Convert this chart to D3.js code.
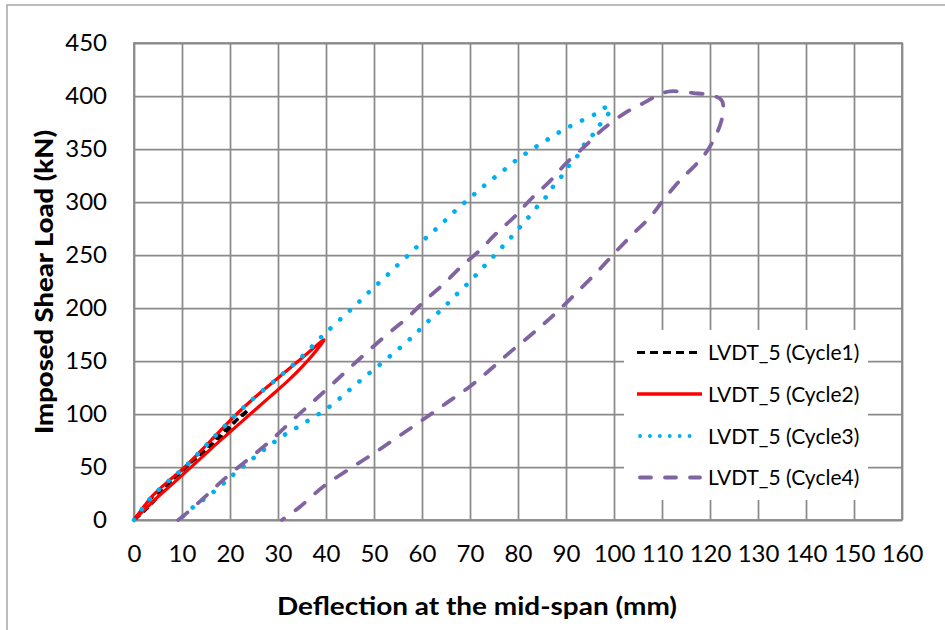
<!DOCTYPE html>
<html><head><meta charset="utf-8">
<script src="https://cdn.jsdelivr.net/npm/d3@7"></script>
<style>body{margin:0;background:#fff}svg{display:block}</style>
</head><body>
<svg id="chart" width="945" height="630"></svg>
<script>
// ---- data ----
const xTickValues = [0,10,20,30,40,50,60,70,80,90,100,110,120,130,140,150,160];
const yTickValues = [0,50,100,150,200,250,300,350,400,450];
const seriesNames = ["LVDT_5 (Cycle1)","LVDT_5 (Cycle2)","LVDT_5 (Cycle3)","LVDT_5 (Cycle4)"];

const cycle1 = [[0,0],[3.5,20],[7,34],[10.5,49],[14,64],[17.5,79],[21,93],[23.8,104],
  [22.5,98],[21.4,94.3],[19,81.8],[16.5,70.8],[13.75,61.3],[11.7,53.5],[9.6,44],[7.9,37.7],[5,22],[2.5,10],[0,0]];

const cycle2 = [[0,0],[1.8,11],[3.7,22],[7,36],[10.6,50],[16,75],[21.4,100],[25.5,117],[30,134],[34.5,151],[39.6,170],
  [38,160],[35,144.5],[32,131],[28,115],[24,99],[20,83],[16,67],[12.4,52],[8.5,36],[5.4,23.6],[2.5,11],[0,0]];

const cycle3 = [[0,0],[1.8,11],[3.7,22],[7,36],[10.6,50],[16,75],[21.4,100],[25.5,117],[30,134],[34.5,152],[39.1,173],
  [40.5,179],[43.5,191.5],[46.5,204],[49.3,216.6],[52.3,229],[55.2,241.7],[58.1,254],[61,266.8],[64,279],[67,292],
  [70,303.8],[73.1,316],[76.3,327.3],[79.5,339],[82.7,349],[86.2,359],[89.7,368.7],[93.3,376.8],[96.8,384.6],
  [98.7,390.3],[99.3,387.5],[98.3,380],[96.9,372],[95.9,365],[94.2,357],[92.3,343],[90.8,335.7],[89.8,328.5],
  [87.2,313.8],[86.2,306.6],[84.7,299.4],[82.2,285.6],[80.9,279],[79.6,272],[78.2,264.9],[76.8,258],[75.5,251.7],
  [74.1,244.8],[72.7,238.2],[71.3,231.3],[69.9,225],[68.5,218],[67,211.9],[65.6,205.3],[64.2,199],[62.7,193],
  [61.3,187.5],[59.8,180.9],[58.3,174],[54.5,159],[50.5,144],[46.5,129],[42.9,114.8],[39.8,103.8],[36.7,95],
  [33.5,86],[30.9,79],[28.3,70.5],[25.2,59.5],[22.5,49.5],[20,40],[18.3,33],[15.3,22],[12.7,13.5],[10.3,4],[9.4,0]];

const cycle4 = [[9.2,0],[11,6.5],[15.3,24],[17.9,35],[20.7,46],[24.9,61.3],[29,77],[33.2,95],[37.4,112],[41.5,129],
  [46.5,150],[52.3,173.4],[56.9,190.6],[60.8,207.8],[64.5,222.6],[68.2,239.2],[72,254.2],[75.5,270.5],[79.3,286.2],
  [82.7,302.8],[86.5,319],[90,336.4],[93.8,352],[97.5,368],[102.1,383.4],[106.2,393.5],[109.7,402],[111.7,404.4],
  [116.6,402.8],[120.7,400.2],[122.4,396],[122.8,386.5],[122.2,374],[120.7,358],[118.6,343],[116.6,333.2],
  [113.8,320.7],[110.3,301.9],[107.6,286.2],[104,270],[100.4,253.3],[96.9,236],[92.8,217.2],[88.6,198.4],
  [85.2,184.3],[82,172],[78,157],[74,141],[70,126],[65,110],[60,94],[55,78.5],[50,63],[45,48.5],[39.4,31.4],
  [34.6,12.6],[30.8,0]];

const seriesData = [cycle1, cycle2, cycle3, cycle4];
const seriesColors = ["#000000","#FF0000","#00B0F0","#8064A2"];

// ---- layout ----
const svg = d3.select("#chart");
const L = 134, R = 902, T = 43, B = 520;
const x = d3.scaleLinear().domain([0,160]).range([L,R]);
const y = d3.scaleLinear().domain([0,450]).range([B,T]);

// outer chart border
svg.append("rect").attr("x",7).attr("y",5).attr("width",1000).attr("height",1000)
  .attr("fill","#fff").attr("stroke","#a6a6a6").attr("stroke-width",1.5);

const gridColor = "#8a8a8a";
const tickFont = "Lato, 'DejaVu Sans', sans-serif";

// x axis (grid + labels)
const gx = svg.append("g").attr("transform",`translate(0,${B})`)
  .call(d3.axisBottom(x).tickValues(xTickValues).tickSize(-(B-T)).tickPadding(25).tickFormat(d3.format("d")));
gx.select(".domain").remove();
gx.selectAll("line").attr("stroke",gridColor).attr("stroke-width",1.75);
gx.selectAll("text").attr("font-family",tickFont).attr("font-size",24).attr("fill","#000");

// y axis (grid + labels)
const gy = svg.append("g").attr("transform",`translate(${L},0)`)
  .call(d3.axisLeft(y).tickValues(yTickValues).tickSize(-(R-L)).tickPadding(27).tickFormat(d3.format("d")));
gy.select(".domain").remove();
gy.selectAll("line").attr("stroke",gridColor).attr("stroke-width",1.75);
gy.selectAll("text").attr("font-family",tickFont).attr("font-size",24).attr("fill","#000");

// plot border
svg.append("rect").attr("x",L).attr("y",T).attr("width",R-L).attr("height",B-T)
  .attr("fill","none").attr("stroke",gridColor).attr("stroke-width",1.75);

const line = d3.line().x(d=>x(d[0])).y(d=>y(d[1])).curve(d3.curveCatmullRom.alpha(0.5));

const styles = [
  {w:3.2, dash:"7,4.5", cap:"butt"},
  {w:3.2, dash:null, cap:"round"},
  {w:4.6, dash:"0.1,13", cap:"round"},
  {w:3.8, dash:"12,14", cap:"round"}
];
const legendStyles = [
  {w:3.2, dash:"8,5", cap:"butt"},
  {w:3.4, dash:null, cap:"butt"},
  {w:3.8, dash:"0.1,9.8", cap:"round"},
  {w:3.8, dash:"11,14", cap:"round"}
];

seriesData.forEach((data,i)=>{
  svg.append("path").datum(data).attr("d",line)
    .attr("fill","none").attr("stroke",seriesColors[i])
    .attr("stroke-width",styles[i].w)
    .attr("stroke-dasharray",styles[i].dash)
    .attr("stroke-linecap",styles[i].cap)
    .attr("stroke-linejoin","round");
});

// legend
const lg = svg.append("g");
lg.append("rect").attr("x",624).attr("y",330).attr("width",244).attr("height",170).attr("fill","#fff");
const rowY = [352.5, 394, 436, 477.5];
const legX1 = [637, 637, 640, 640];
const legX2 = [702, 702, 699, 700];
seriesNames.forEach((name,i)=>{
  const ls = legendStyles[i];
  lg.append("line").attr("x1", legX1[i]).attr("x2", legX2[i])
    .attr("y1",rowY[i]).attr("y2",rowY[i])
    .attr("stroke",seriesColors[i]).attr("stroke-width",ls.w)
    .attr("stroke-dasharray",ls.dash).attr("stroke-linecap",ls.cap);
  lg.append("text").attr("x",708).attr("y",rowY[i]+7.5).text(name)
    .attr("font-family",tickFont).attr("font-size",21).attr("fill","#000");
});

// axis titles
svg.append("text").attr("x",477).attr("y",615).attr("text-anchor","middle")
  .attr("font-family","Lato, 'DejaVu Sans', sans-serif").attr("font-weight","bold").attr("font-size",25)
  .attr("textLength",400).attr("lengthAdjust","spacingAndGlyphs")
  .text("Deflection at the mid-span (mm)");
svg.append("text").attr("transform","translate(53,282) rotate(-90)").attr("text-anchor","middle")
  .attr("font-family","Lato, 'DejaVu Sans', sans-serif").attr("font-weight","900").attr("font-size",25)
  .attr("textLength",304).attr("lengthAdjust","spacingAndGlyphs")
  .text("Imposed Shear Load (kN)");
</script>
</body></html>
